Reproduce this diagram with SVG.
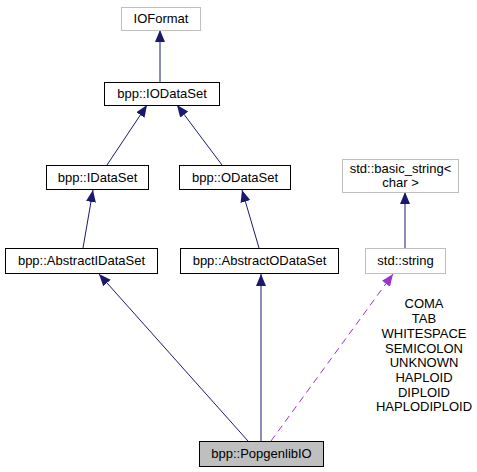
<svg xmlns="http://www.w3.org/2000/svg" width="477" height="472" viewBox="0 0 477 472">
<style>
text{font-family:"Liberation Sans",Arial,sans-serif;font-size:13px;fill:#000;text-anchor:middle}
.n rect{fill:#fff;stroke:#000;stroke-width:1}
.g rect{fill:#fff;stroke:#bfbfbf;stroke-width:1}
.e{fill:none;stroke:#191970;stroke-width:1}
.d{fill:none;stroke:#9a32cd;stroke-width:1;stroke-dasharray:7,5}
</style>
<defs>
<marker id="a" markerUnits="userSpaceOnUse" markerWidth="13" markerHeight="11" refX="12" refY="5" orient="auto"><path d="M0,0L12,5L0,10z" fill="#191970"/></marker>
<marker id="p" markerUnits="userSpaceOnUse" markerWidth="13" markerHeight="11" refX="12" refY="5" orient="auto"><path d="M0,0L12,5L0,10z" fill="#9a32cd"/></marker>
</defs>
<rect width="477" height="472" fill="#fff"/>
<g id="edges">
<path class="e" d="M160,82L160,30" marker-end="url(#a)"/>
<path class="e" d="M107,165L147,105" marker-end="url(#a)"/>
<path class="e" d="M222,165L177,105" marker-end="url(#a)"/>
<path class="e" d="M83,248L93,190" marker-end="url(#a)"/>
<path class="e" d="M259,248L242,190" marker-end="url(#a)"/>
<path class="e" d="M248,441L99,274" marker-end="url(#a)"/>
<path class="e" d="M261,441L261,274" marker-end="url(#a)"/>
<path class="e" d="M405,248L405,192" marker-end="url(#a)"/>
<path class="d" d="M271,441L393,274" marker-end="url(#p)"/>
</g>
<g id="IOFormat" class="g"><rect x="121.5" y="7.5" width="79" height="23"/><text x="161" y="23">IOFormat</text></g>
<g id="IODataSet" class="n"><rect x="104.5" y="82.5" width="115" height="23"/><text x="162" y="98">bpp::IODataSet</text></g>
<g id="IDataSet" class="n"><rect x="46.5" y="165.5" width="102" height="24"/><text x="97.5" y="182">bpp::IDataSet</text></g>
<g id="ODataSet" class="n"><rect x="179.5" y="165.5" width="111" height="24"/><text x="235" y="182">bpp::ODataSet</text></g>
<g id="AbstractIDataSet" class="n"><rect x="5.5" y="248.5" width="152" height="25"/><text x="81.5" y="265">bpp::AbstractIDataSet</text></g>
<g id="AbstractODataSet" class="n"><rect x="180.5" y="248.5" width="158" height="25"/><text x="259.5" y="265">bpp::AbstractODataSet</text></g>
<g id="basic_string" class="g"><rect x="342.5" y="159.5" width="116" height="33"/><text x="400.5" y="173">std::basic_string&lt;</text><text x="400.5" y="187">char &gt;</text></g>
<g id="string" class="g"><rect x="365.5" y="248.5" width="80" height="25"/><text x="405.5" y="265">std::string</text></g>
<g id="PopgenlibIO"><rect x="199.5" y="441.5" width="124" height="25" fill="#bfbfbf" stroke="#000"/><text x="261.5" y="458">bpp::PopgenlibIO</text></g>
<g id="labels">
<text x="424" y="308">COMA</text>
<text x="424" y="323">TAB</text>
<text x="424" y="338">WHITESPACE</text>
<text x="424" y="353">SEMICOLON</text>
<text x="424" y="367">UNKNOWN</text>
<text x="424" y="382">HAPLOID</text>
<text x="424" y="397">DIPLOID</text>
<text x="424" y="411">HAPLODIPLOID</text>
</g>
</svg>
